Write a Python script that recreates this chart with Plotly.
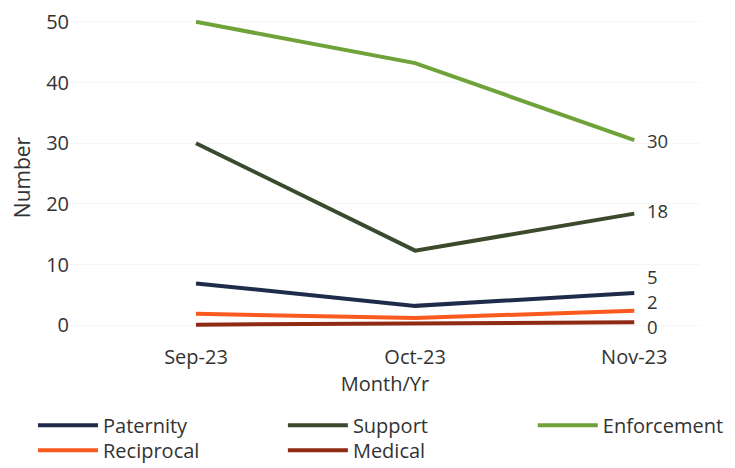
import plotly.graph_objects as go

months = ["Sep-23", "Oct-23", "Nov-23"]
paternity = [6.9, 3.2, 5.3]
support = [30.0, 12.3, 18.4]
enforcement = [50.0, 43.2, 30.5]
reciprocal = [1.9, 1.2, 2.4]
medical = [0.1, 0.3, 0.5]
end_labels = {"Enforcement": "30", "Support": "18", "Paternity": "5", "Reciprocal": "2", "Medical": "0"}
y_ticks = [0, 10, 20, 30, 40, 50]

# name, values, colour, legend slot (column, row)
series = [
    ("Paternity", paternity, "#1E2B4A", (0, 0)),
    ("Support", support, "#3B4A2C", (1, 0)),
    ("Enforcement", enforcement, "#6FA33A", (2, 0)),
    ("Reciprocal", reciprocal, "#FA5A1E", (0, 1)),
    ("Medical", medical, "#8E2B12", (1, 1)),
]
label_yshift = {"Enforcement": 0, "Support": 3, "Paternity": 17, "Reciprocal": 9, "Medical": -4}

FONT = "Open Sans"
TXT = "#333333"

fig = go.Figure()
legends = {}
for i, (name, vals, col, (c, r)) in enumerate(series):
    lg = "legend" if i == 0 else f"legend{i + 1}"
    fig.add_trace(go.Scatter(x=months, y=vals, name=name, mode="lines", legend=lg,
                             line=dict(color=col, width=4)))
    fig.add_annotation(x=months[-1], y=vals[-1], text=end_labels[name], showarrow=False,
                       xanchor="left", yanchor="middle", xshift=12, yshift=label_yshift[name],
                       borderpad=0, font=dict(family=FONT, size=18.5, color=TXT))
    legends[lg] = dict(orientation="h", xref="container", yref="container",
                       x=0.034 + 0.340 * c, y=0.15 - 0.0534 * r,
                       xanchor="left", yanchor="top", bgcolor="rgba(0,0,0,0)",
                       font=dict(family=FONT, size=20, color=TXT), itemwidth=60)

fig.update_layout(
    width=735, height=468,
    margin=dict(l=62, r=43, t=12, b=141, autoexpand=False),
    plot_bgcolor="white", paper_bgcolor="white",
    font=dict(family=FONT, size=20, color=TXT),
    showlegend=True,
    **legends,
)
fig.update_xaxes(type="category", range=[-0.575, 2.30], showgrid=False, showline=False,
                 zeroline=False, ticks="", automargin=False, ticklabelstandoff=8,
                 tickfont=dict(family=FONT, size=20, color=TXT),
                 title=dict(text="Month/Yr", font=dict(family=FONT, size=20, color=TXT), standoff=4))
fig.update_yaxes(range=[-1.6, 50.3], tickvals=y_ticks, showgrid=True, gridcolor="#F6F6F6",
                 zeroline=False, showline=False, ticks="", automargin=False,
                 ticklabeloverflow="allow",
                 tickfont=dict(family=FONT, size=20, color=TXT),
                 title=dict(text="Number", font=dict(family=FONT, size=21, color=TXT), standoff=14))

fig.write_html("out.html")
